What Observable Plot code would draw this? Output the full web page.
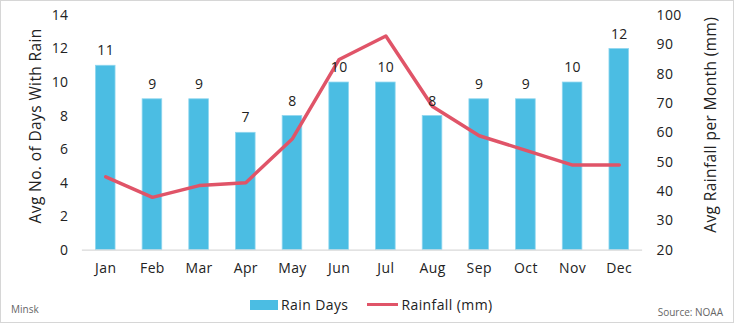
<!DOCTYPE html>
<html>
<head>
<meta charset="utf-8">
<script src="https://cdn.jsdelivr.net/npm/d3@7"></script>
<script src="https://cdn.jsdelivr.net/npm/@observablehq/plot@0.6"></script>
<style>
  html, body { margin: 0; padding: 0; background: #fff; }
  #wrap { position: relative; width: 734px; height: 323px; box-sizing: border-box; border: 1px solid #d6d6d6; overflow: hidden; font-family: "Open Sans", sans-serif; }
  #chart { position: absolute; left: -1px; top: -1px; }
  .legend { position: absolute; top: 294px; left: 249px; display: flex; align-items: center; font-size: 14px; letter-spacing: 0.4px; color: #222; }
  .sw-bar { width: 28px; height: 10px; background: #4bbde3; margin-right: 3px; }
  .sw-line { width: 31px; height: 3.5px; background: #e05468; margin-left: 19px; margin-right: 3px; }
  .note { position: absolute; font-size: 10px; color: #666; }
</style>
</head>
<body>
<div id="wrap">
  <div id="chart"></div>
  <div class="legend"><div class="sw-bar"></div><span>Rain Days</span><div class="sw-line"></div><span>Rainfall (mm)</span></div>
  <div class="note" style="left:10px; top:301px;">Minsk</div>
  <div class="note" style="right:10px; top:304px;">Source: NOAA</div>
</div>
<script>
const months = ["Jan","Feb","Mar","Apr","May","Jun","Jul","Aug","Sep","Oct","Nov","Dec"];
const rainDays = [11, 9, 9, 7, 8, 10, 10, 8, 9, 9, 10, 12];
const rainfallMm = [45, 38, 42, 43, 58, 85, 93, 69, 59, 54, 49, 49];
const leftTicks = [0, 2, 4, 6, 8, 10, 12, 14];
const rightTicks = [20, 30, 40, 50, 60, 70, 80, 90, 100];

const leftMax = 14, rMin = 20, rMax = 100;
const toLeft = mm => (mm - rMin) / (rMax - rMin) * leftMax;
const toRight = v => Math.round(v / leftMax * (rMax - rMin) + rMin);

const data = months.map((m, i) => ({month: m, days: rainDays[i], mm: rainfallMm[i], mmL: toLeft(rainfallMm[i])}));

const plot = Plot.plot({
  width: 734,
  height: 290,
  marginTop: 15,
  marginBottom: 40,
  marginLeft: 82,
  marginRight: 91,
  style: {fontFamily: "'Open Sans', sans-serif", fontSize: "13px", color: "#222", background: "transparent", letterSpacing: "0.4px"},
  x: {domain: months, paddingInner: 0.58, paddingOuter: 0.29, round: false, label: null},
  y: {domain: [0, leftMax], label: null},
  marks: [
    Plot.barY(data, {x: "month", y: "days", fill: "#4bbde3", stroke: "#8fd6ef", strokeWidth: 0.8}),
    Plot.ruleY([0], {stroke: "#d9d9d9", strokeWidth: 1.2}),
    Plot.lineY(data, {x: "month", y: "mmL", stroke: "#e05468", strokeWidth: 3.5}),
    Plot.text(data, {x: "month", y: "days", text: d => String(d.days), dy: -15, fill: "#222", fontSize: 14}),
    Plot.axisX({tickSize: 0, tickPadding: 13, fontSize: 14, label: null}),
    Plot.axisY(leftTicks, {anchor: "left", tickSize: 0, tickPadding: 14, fontSize: 14, label: null}),
    Plot.axisY(rightTicks.map(toLeft), {anchor: "right", tickSize: 0, tickPadding: 14, fontSize: 14, tickFormat: toRight, label: null}),
    Plot.text(["Avg No. of Days With Rain"], {frameAnchor: "left", textAnchor: "middle", rotate: -90, dx: -46, dy: -7, fontSize: 15.5, fill: "#222"}),
    Plot.text(["Avg Rainfall per Month (mm)"], {frameAnchor: "right", textAnchor: "middle", rotate: -90, dx: 69, dy: -8, fontSize: 15.5, fill: "#222"})
  ]
});
document.getElementById("chart").appendChild(plot);
</script>
</body>
</html>
